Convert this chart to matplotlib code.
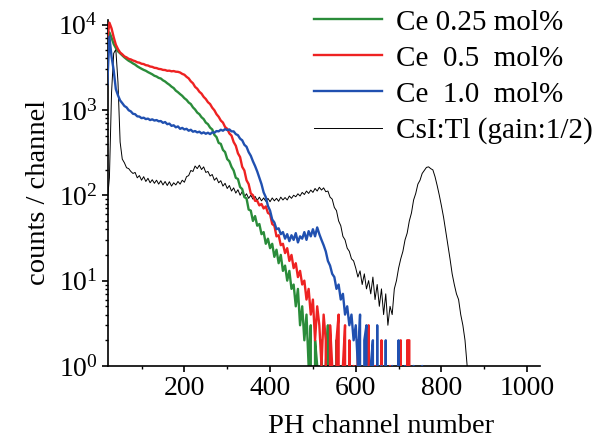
import numpy as np
import matplotlib
matplotlib.use("Agg")
import matplotlib.pyplot as plt
from matplotlib.ticker import FixedLocator, LogLocator, NullFormatter

plt.rcParams['font.family'] = ['Liberation Serif', 'DejaVu Serif']
plt.rcParams['mathtext.fontset'] = 'stix'

# counts per channel, channels start at 20 with a step of 5
green = [5200, 8100, 7000, 5900, 5300, 4850, 4600, 4350, 4120, 3930, 3760, 3640, 3500, 3390, 3240, 3130,
         3030, 2940, 2870, 2770, 2690, 2610, 2510, 2460, 2370, 2330, 2220, 2150, 2050, 1970, 1870, 1800, 1680, 1610, 1530, 1460,
         1370, 1310, 1220, 1170, 1070, 1010, 930, 890, 820, 780, 710, 680, 620, 590, 510, 480, 410, 400, 340, 320,
         265, 250, 215, 195, 160, 155, 125, 118, 95, 92, 68, 66, 50, 57, 44, 46, 35, 37, 27, 31,
         24, 27, 19, 23, 16, 20, 13, 15, 10, 13, 8, 9, 5, 8, 3, 5, 2, 4, 1, 3,
         0, 2, 1, 0, 2, 0, 1, 3, 0, 1, 0, 2, 0, 0, 1, 0, 0, 1]

red = [6500, 10500, 9000, 7100, 5800, 5150, 4700, 4480, 4230, 4120, 3960, 3900, 3790, 3720, 3610, 3570,
       3470, 3440, 3340, 3310, 3220, 3190, 3110, 3090, 3020, 3000, 2940, 2930, 2870, 2880, 2830, 2850, 2800, 2790, 2740, 2640,
       2580, 2440, 2340, 2160, 2050, 1860, 1770, 1630, 1550, 1420, 1340, 1230, 1170, 1060, 990, 890, 830, 750, 710, 630,
       600, 530, 500, 420, 380, 310, 280, 215, 195, 150, 135, 105, 100, 86, 86, 76, 79, 70, 74, 62,
       60, 46, 44, 33, 34, 26, 27, 21, 24, 17, 20, 14, 16, 11, 13, 9, 10, 6, 8, 4,
       6, 2, 5, 3, 1, 4, 2, 0, 3, 1, 0, 2, 4, 0, 1, 3, 0, 2, 0, 1,
       0, 2, 0, 0, 1, 0, 3, 0, 0, 1, 0, 0, 2, 0, 0, 0, 1, 0, 0, 0,
       0, 2, 0, 0, 2, 2, 0]

blue = [2000, 7200, 4200, 2900, 1750, 1480, 1290, 1200, 1110, 1070, 990, 960, 900, 890, 840, 835,
        800, 810, 780, 790, 760, 775, 750, 760, 735, 740, 705, 720, 680, 690, 650, 660, 625, 640, 600, 615,
        590, 600, 570, 585, 555, 565, 545, 555, 530, 545, 525, 540, 520, 545, 540, 565, 560, 585, 570, 595,
        580, 590, 560, 560, 520, 505, 460, 440, 390, 370, 320, 290, 250, 220, 190, 160, 135, 108, 95, 75,
        66, 52, 48, 40, 41, 35, 37, 31, 35, 29, 34, 30, 36, 28, 33, 31, 37, 30, 38, 33,
        40, 33, 42, 35, 30, 26, 22, 17, 15, 12, 11, 8, 9, 6, 7, 4, 5, 3, 4, 2,
        3, 1, 4, 0, 2, 3, 0, 1, 2, 0, 3, 0, 1, 0, 2, 0, 0, 1, 0, 0,
        2, 0, 0, 1, 0, 0, 0, 1, 0, 0, 0, 1, 0]

csi = [85, 160, 1600, 4600, 5100, 2100, 420, 265, 240, 210, 205, 190, 180, 185, 160, 170,
       150, 165, 145, 158, 140, 152, 138, 150, 135, 148, 132, 145, 130, 144, 128, 140, 132, 145, 135, 150,
       142, 165, 170, 195, 190, 220, 205, 225, 200, 215, 185, 190, 168, 175, 150, 160, 140, 148, 128, 138,
       120, 130, 112, 122, 106, 116, 100, 110, 96, 104, 92, 100, 90, 97, 87, 95, 86, 93, 85, 92,
       84, 93, 86, 92, 85, 95, 88, 94, 88, 98, 92, 100, 96, 104, 98, 108, 102, 112, 105, 115,
       108, 120, 112, 124, 115, 122, 110, 112, 95, 90, 72, 66, 50, 44, 33, 30, 24, 22, 18, 17,
       14, 11, 13, 9, 12, 8, 10, 7, 11, 6, 9, 5, 8, 4, 7, 3, 5, 4, 8, 10,
       14, 18, 22, 30, 36, 50, 62, 88, 105, 135, 150, 180, 195, 212, 215, 205, 198, 165, 130, 100,
       75, 55, 38, 26, 18, 12, 9, 7, 6, 4, 3, 2, 1, 0]

labels = ['Ce 0.25 mol%', 'Ce  0.5  mol%', 'Ce  1.0  mol%', 'CsI:Tl (gain:1/2)']


def channels(values):
    return np.arange(20, 20 + 5 * len(values), 5)


fig = plt.figure(figsize=(6.03, 4.41), dpi=100)
ax = fig.add_axes([0.1786, 0.1701, 0.7169, 0.7846])

# black first so the coloured spectra sit on top
l_csi, = ax.plot(channels(csi), csi, color='black', lw=0.7, zorder=1)
l_g, = ax.plot(channels(green), green, color='#2a8c3a', lw=1.7, zorder=2)
l_r, = ax.plot(channels(red), red, color='#ee2222', lw=1.7, zorder=3)
l_b, = ax.plot(channels(blue), blue, color='#2050b0', lw=1.7, zorder=4)

ax.set_yscale('log')
ax.set_xlim(21, 1030)
ax.set_ylim(1, 1.13e4)

ax.xaxis.set_major_locator(FixedLocator([200, 400, 600, 800, 1000]))
ax.xaxis.set_minor_locator(FixedLocator([100, 300, 500, 700, 900]))
ax.yaxis.set_major_locator(LogLocator(base=10, numticks=10))
ax.yaxis.set_minor_locator(LogLocator(base=10, subs=np.arange(2, 10), numticks=10))
ax.yaxis.set_minor_formatter(NullFormatter())

for s in ['top', 'right']:
    ax.spines[s].set_visible(False)
for s in ['left', 'bottom']:
    ax.spines[s].set_linewidth(1.2)

ax.tick_params(which='major', direction='out', length=4, width=1.2, labelsize=20, pad=3)
ax.tick_params(which='minor', direction='out', length=2.5, width=1.0)

ax.set_xlabel('PH channel number', fontsize=20.5)
ax.xaxis.set_label_coords(0.632, -0.14)
ax.set_ylabel('counts / channel', fontsize=20.5)
ax.yaxis.set_label_coords(-0.13, 0.5)

ax.legend([l_g, l_r, l_b, l_csi], labels, loc='upper left', bbox_to_anchor=(0.45, 1.065),
          frameon=False, fontsize=21, handlelength=2.35, handletextpad=0.45,
          labelspacing=0.33, borderaxespad=0)

fig.savefig('out.png', dpi=100)
